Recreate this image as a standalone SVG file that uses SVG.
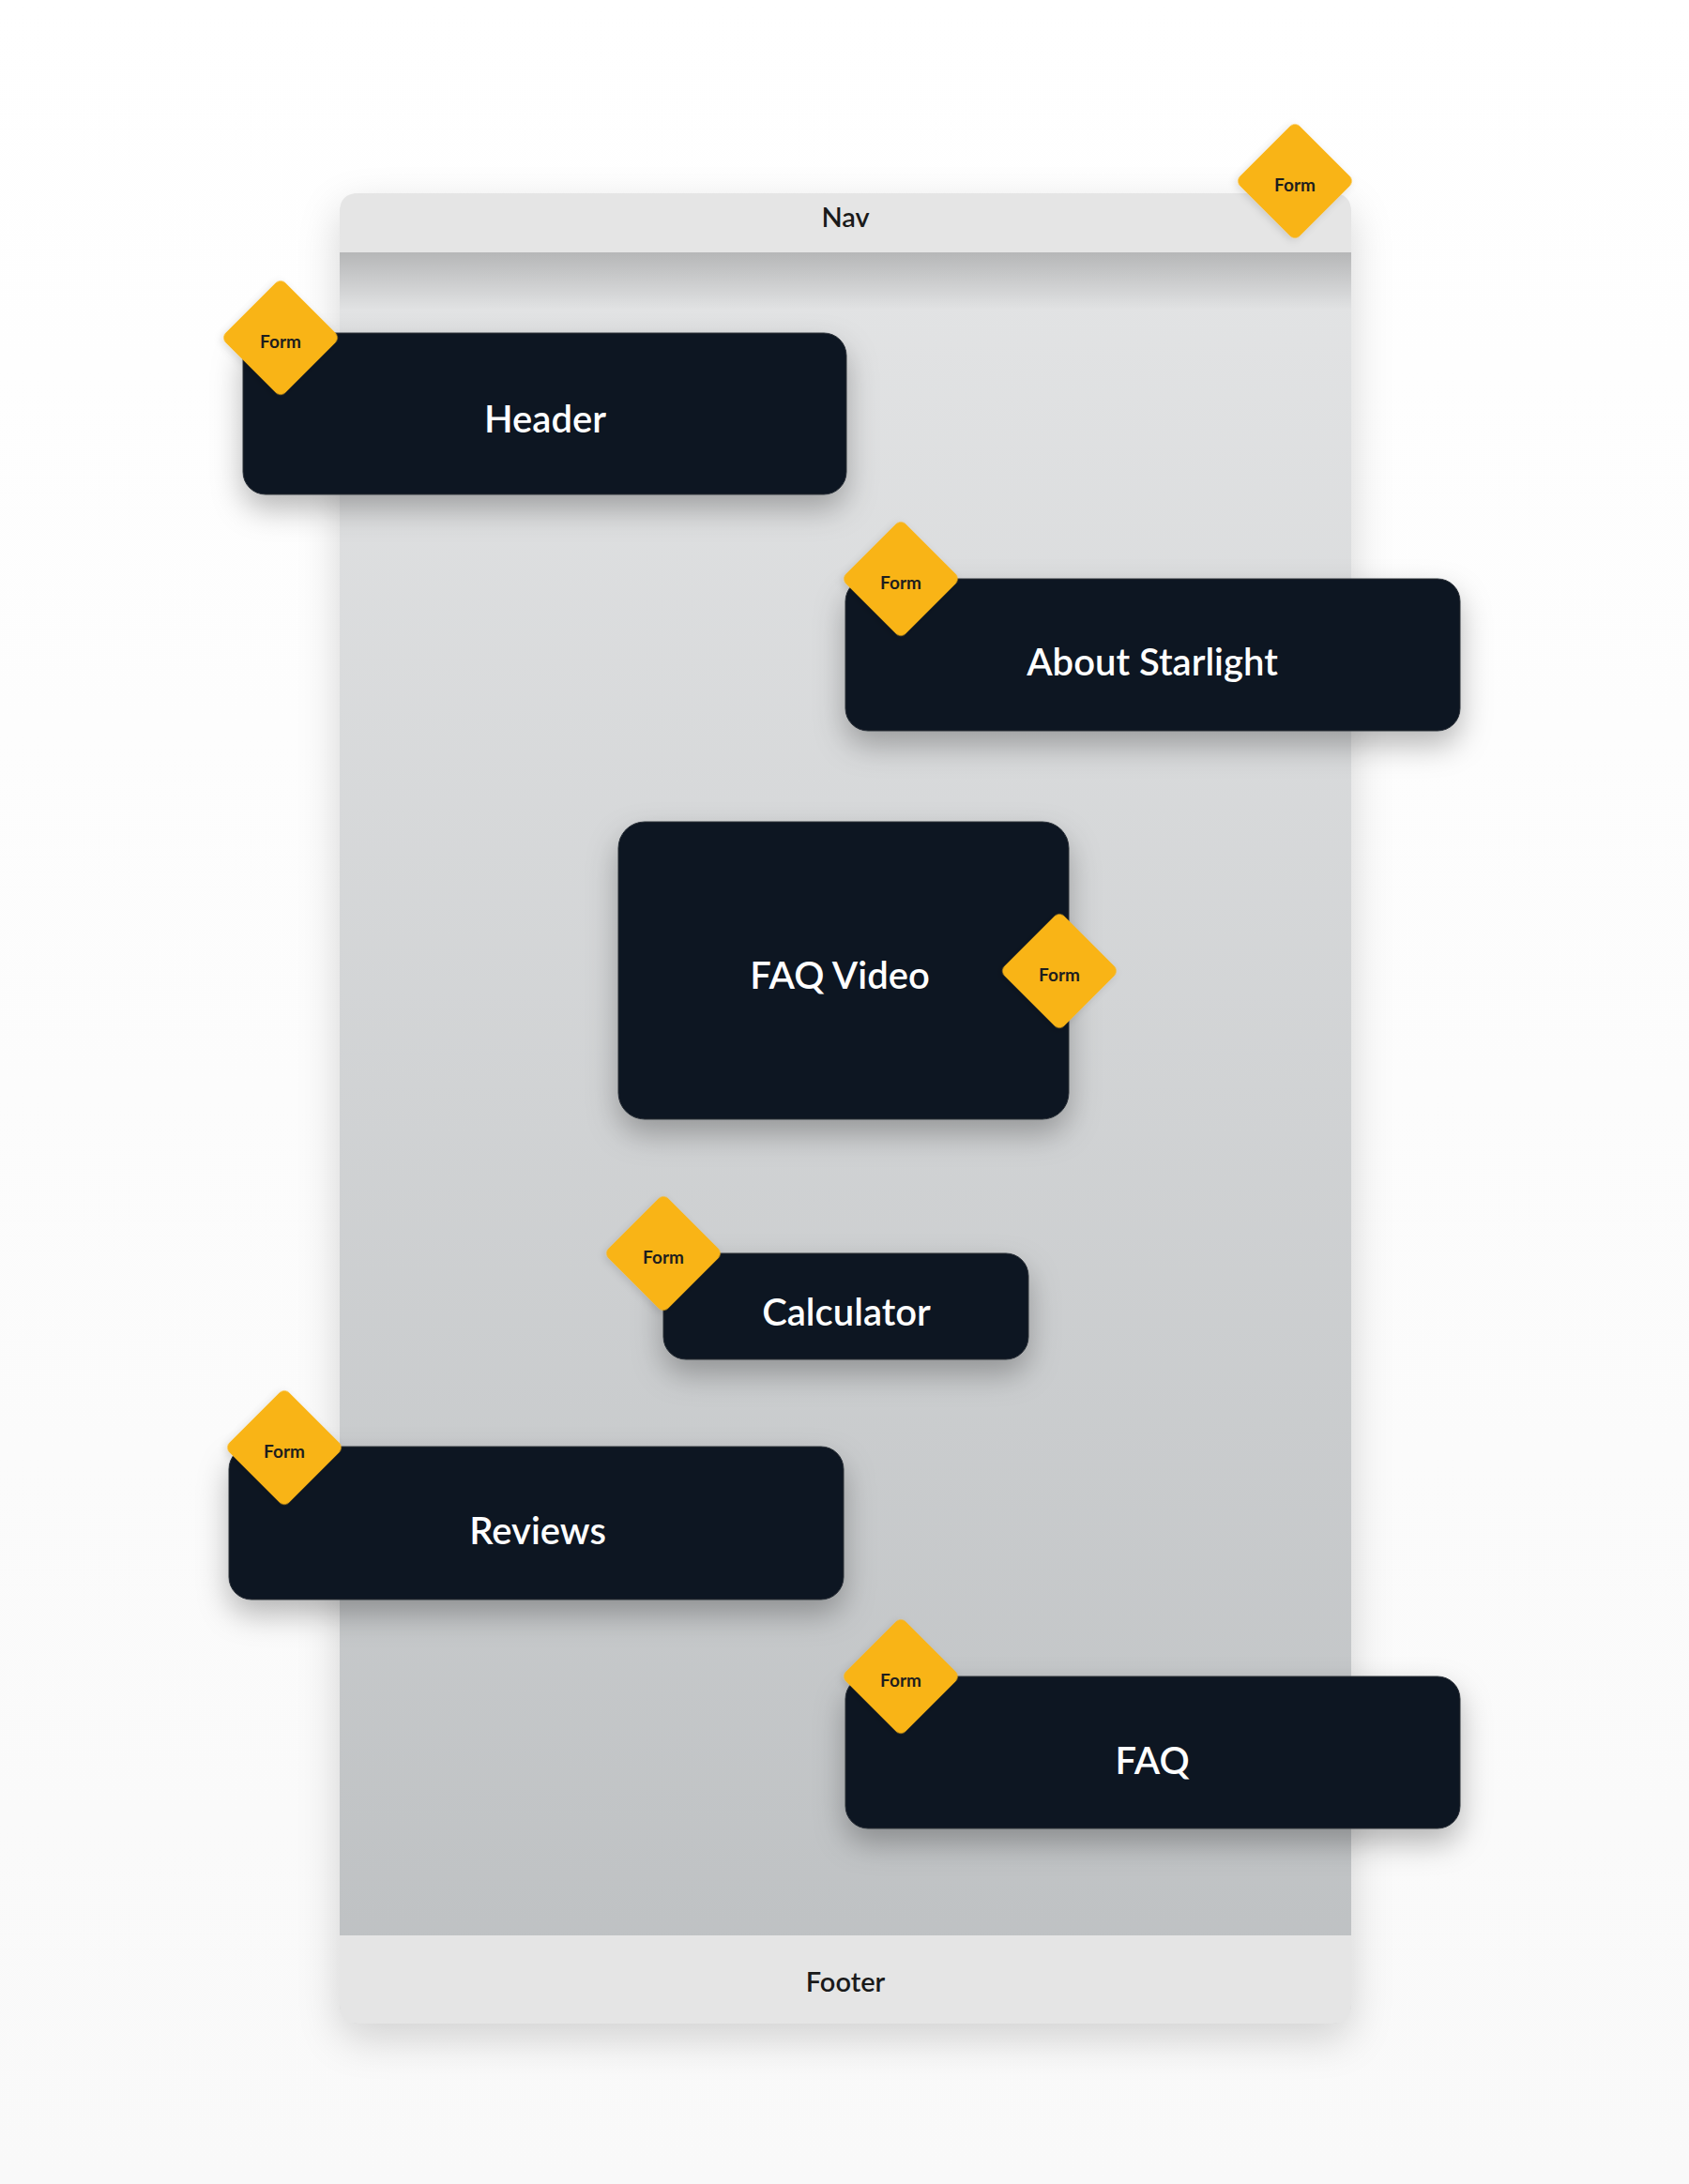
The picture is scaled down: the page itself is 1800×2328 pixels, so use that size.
<svg xmlns="http://www.w3.org/2000/svg" width="1800" height="2328" viewBox="0 0 1800 2328">
<defs>
  <linearGradient id="bg" x1="0" y1="0" x2="0" y2="1">
    <stop offset="0" stop-color="#ffffff"/>
    <stop offset="1" stop-color="#f9f9f9"/>
  </linearGradient>
  <linearGradient id="content" x1="0" y1="0" x2="0" y2="1">
    <stop offset="0" stop-color="#e4e5e6"/>
    <stop offset="1" stop-color="#bdc0c2"/>
  </linearGradient>
  <linearGradient id="navShade" x1="0" y1="0" x2="0" y2="1">
    <stop offset="0" stop-color="#000" stop-opacity="0.2"/>
    <stop offset="1" stop-color="#000" stop-opacity="0"/>
  </linearGradient>
  <filter id="panelShadow" x="-20%" y="-10%" width="140%" height="120%">
    <feDropShadow dx="0" dy="16" stdDeviation="22" flood-color="#000" flood-opacity="0.16"/>
  </filter>
  <filter id="nodeShadow" x="-20%" y="-30%" width="140%" height="180%">
    <feDropShadow dx="0" dy="15" stdDeviation="16" flood-color="#000" flood-opacity="0.28"/>
  </filter>
  <filter id="tagShadow" x="-30%" y="-30%" width="160%" height="160%">
    <feDropShadow dx="0" dy="3" stdDeviation="4" flood-color="#000" flood-opacity="0.12"/>
  </filter>
</defs>
<style>
  .node { fill: #0e1620; stroke: #2a3139; stroke-width: 1; filter: url(#nodeShadow); }
  .label { font-family: Lato, "Liberation Sans", sans-serif; font-weight: 600; font-size: 40px; fill: #ffffff; text-anchor: middle; }
  .tag { fill: #f9b416; filter: url(#tagShadow); }
  .tagtext { font-family: Lato, "Liberation Sans", sans-serif; font-weight: 700; font-size: 19px; fill: #1e1e1e; text-anchor: middle; }
  .bar { fill: #e5e5e5; }
  .bartext { font-family: Lato, "Liberation Sans", sans-serif; font-weight: 600; font-size: 29px; fill: #1a1a1a; text-anchor: middle; }
</style>
<rect x="0" y="0" width="1800" height="2328" fill="url(#bg)"/>

<g id="page">
  <rect x="362" y="206" width="1078" height="1951" rx="20" fill="url(#content)" filter="url(#panelShadow)"/>
  <rect x="362" y="269" width="1078" height="62" fill="url(#navShade)"/>
</g>

<g id="nav">
  <path class="bar" d="M362 269 V226 Q362 206 382 206 H1420 Q1440 206 1440 226 V269 Z"/>
  <text class="bartext" x="901" y="242">Nav</text>
</g>

<g id="footer">
  <path class="bar" d="M362 2063 H1440 V2137 Q1440 2157 1420 2157 H382 Q362 2157 362 2137 Z"/>
  <text class="bartext" x="901" y="2123">Footer</text>
</g>

<g id="connectors"></g>

<g id="header">
  <rect class="node" x="259" y="355" width="643" height="172" rx="24"/>
  <text class="label" x="581" y="461">Header</text>
</g>

<g id="about-starlight">
  <rect class="node" x="901" y="617" width="655" height="162" rx="24"/>
  <text class="label" x="1228" y="720">About Starlight</text>
</g>

<g id="faq-video">
  <rect class="node" x="659" y="876" width="480" height="317" rx="28"/>
  <text class="label" x="895" y="1054">FAQ Video</text>
</g>

<g id="calculator">
  <rect class="node" x="707" y="1336" width="389" height="113" rx="24"/>
  <text class="label" x="902" y="1413">Calculator</text>
</g>

<g id="reviews">
  <rect class="node" x="244" y="1542" width="655" height="163" rx="24"/>
  <text class="label" x="573" y="1646">Reviews</text>
</g>

<g id="faq">
  <rect class="node" x="901" y="1787" width="655" height="162" rx="24"/>
  <text class="label" x="1228" y="1891">FAQ</text>
</g>

<g id="form-nav">
  <rect class="tag" x="-45" y="-45" width="90" height="90" rx="7" transform="translate(1380 193) rotate(45)"/>
  <text class="tagtext" x="1380" y="204">Form</text>
</g>
<g id="form-header">
  <rect class="tag" x="-45" y="-45" width="90" height="90" rx="7" transform="translate(299 360) rotate(45)"/>
  <text class="tagtext" x="299" y="371">Form</text>
</g>
<g id="form-about">
  <rect class="tag" x="-45" y="-45" width="90" height="90" rx="7" transform="translate(960 617) rotate(45)"/>
  <text class="tagtext" x="960" y="628">Form</text>
</g>
<g id="form-faq-video">
  <rect class="tag" x="-45" y="-45" width="90" height="90" rx="7" transform="translate(1129 1035) rotate(45)"/>
  <text class="tagtext" x="1129" y="1046">Form</text>
</g>
<g id="form-calculator">
  <rect class="tag" x="-45" y="-45" width="90" height="90" rx="7" transform="translate(707 1336) rotate(45)"/>
  <text class="tagtext" x="707" y="1347">Form</text>
</g>
<g id="form-reviews">
  <rect class="tag" x="-45" y="-45" width="90" height="90" rx="7" transform="translate(303 1543) rotate(45)"/>
  <text class="tagtext" x="303" y="1554">Form</text>
</g>
<g id="form-faq">
  <rect class="tag" x="-45" y="-45" width="90" height="90" rx="7" transform="translate(960 1787) rotate(45)"/>
  <text class="tagtext" x="960" y="1798">Form</text>
</g>
</svg>
